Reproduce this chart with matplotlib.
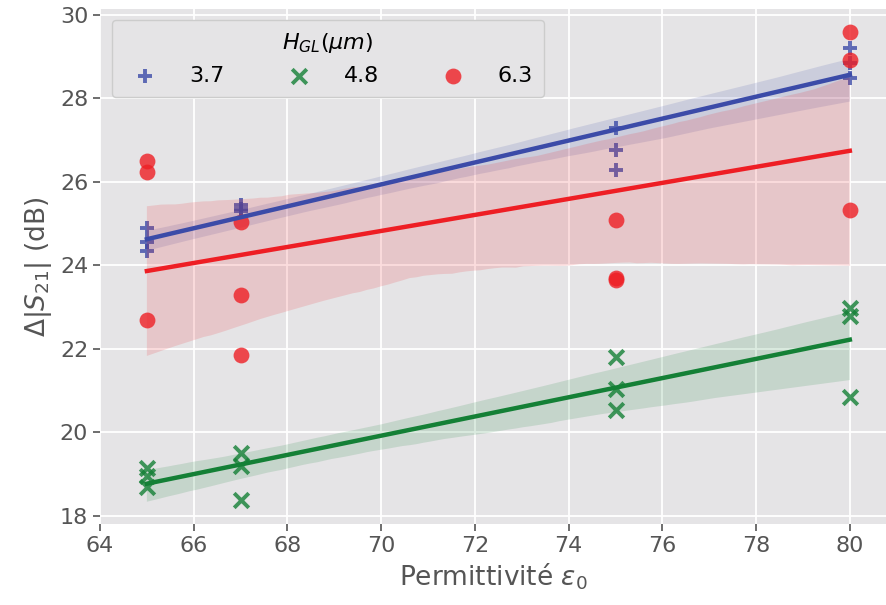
import matplotlib
matplotlib.use("Agg")
import matplotlib.pyplot as plt
import numpy as np
import seaborn as sns

# permittivity values and measured delta |S21| for each graphene-layer thickness
eps_37 = [65, 65, 65, 67, 67, 67, 75, 75, 75, 80, 80, 80]
s21_37 = [24.9, 24.55, 24.35, 25.45, 25.35, 25.3, 27.3, 26.77, 26.29, 29.2, 28.85, 28.5]

eps_48 = [65, 65, 65, 67, 67, 67, 75, 75, 75, 80, 80, 80]
s21_48 = [19.15, 18.95, 18.7, 19.5, 19.2, 18.38, 21.8, 21.05, 20.55, 22.98, 22.8, 20.85]

eps_63 = [65, 65, 65, 67, 67, 67, 75, 75, 75, 80, 80, 80]
s21_63 = [26.5, 26.25, 22.7, 25.05, 23.3, 21.85, 25.1, 23.7, 23.65, 29.6, 28.92, 25.33]

labels = ["3.7", "4.8", "6.3"]

plt.rcParams['font.family'] = ['DejaVu Sans']

fig = plt.figure(figsize=(8.86, 6.05), dpi=100)
ax = fig.add_axes([0.1129, 0.134, 0.887, 0.851])
ax.set_facecolor('#E5E4E6')
ax.grid(True, color='white', linewidth=1.3)
ax.set_axisbelow(True)
for s in ax.spines.values():
    s.set_visible(False)

ax.set_xlim(64, 80.77)
ax.set_ylim(17.81, 30.14)

groups = [
    (eps_37, s21_37, '#3B4BA8', '+', labels[0]),
    (eps_48, s21_48, '#148036', 'x', labels[1]),
    (eps_63, s21_63, '#EE1E24', 'o', labels[2]),
]
for xs, ys, col, mk, lab in groups:
    sns.regplot(x=np.array(xs), y=np.array(ys), ax=ax, color=col, marker=mk,
                seed=3, ci=95, truncate=True, label=lab,
                scatter_kws={'s': 130 if mk == 'o' else 110,
                             'linewidths': 2.8 if mk != 'o' else 0},
                line_kws={'linewidth': 3.2})

ax.set_xticks(np.arange(64, 81, 2))
ax.set_yticks(np.arange(18, 31, 2))
ax.tick_params(axis='both', labelsize=16, colors='#555555', length=5, width=1.2)
ax.set_xlabel(r'Permittivité $\varepsilon_0$', fontsize=19, color='#555555')
ax.set_ylabel(r'$\Delta|S_{21}|$ (dB)', fontsize=19, color='#555555')

leg = ax.legend(title=r'$H_{GL}(\mu m)$', ncol=3, loc='upper left',
                bbox_to_anchor=(0.015, 0.979), borderaxespad=0,
                fontsize=16, title_fontsize=16,
                frameon=True, facecolor='#E5E4E6', edgecolor='#CCCCCC',
                framealpha=1, columnspacing=2.35, handletextpad=1.0,
                borderpad=0.5, markerscale=1.0)

fig.savefig('out.png', dpi=100)
